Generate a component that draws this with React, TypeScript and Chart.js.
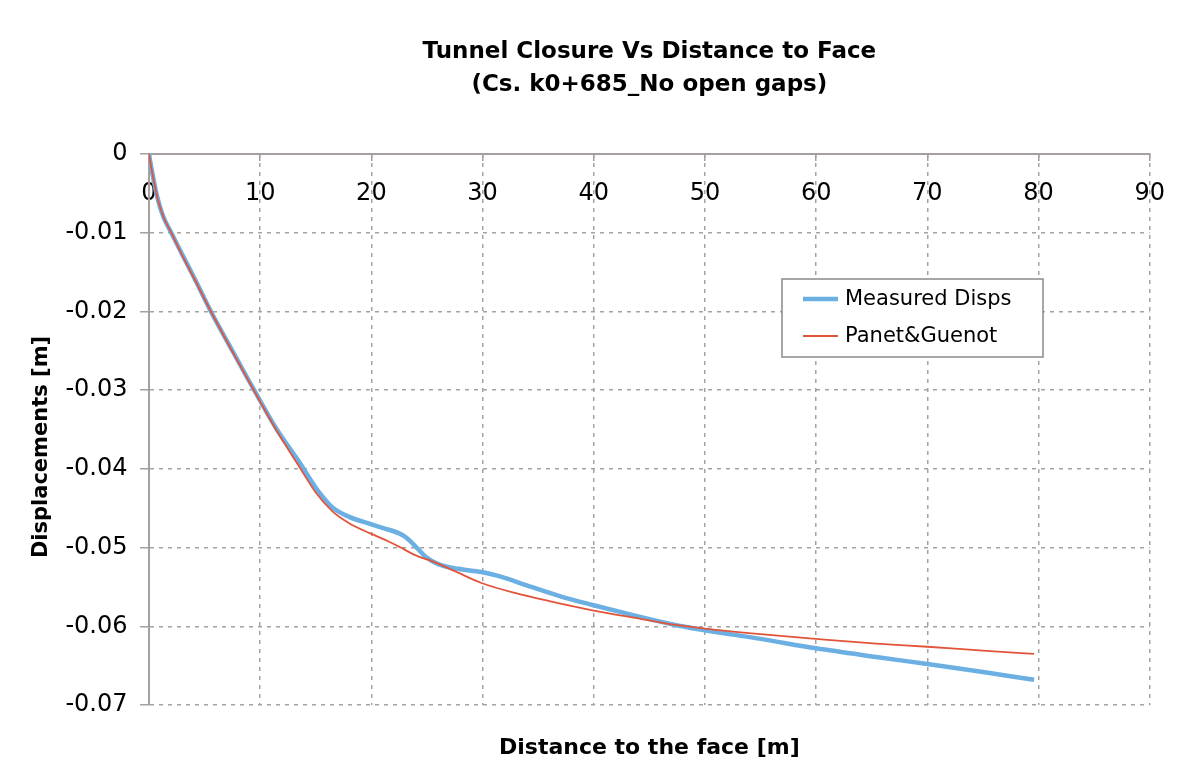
import React, { useEffect, useRef } from "react";
import { Chart, registerables } from "chart.js";

Chart.register(...registerables);

const xTicks = [0, 10, 20, 30, 40, 50, 60, 70, 80, 90];
const yTicks = [0, -0.01, -0.02, -0.03, -0.04, -0.05, -0.06, -0.07];
const yTickLabels = ["0", "-0.01", "-0.02", "-0.03", "-0.04", "-0.05", "-0.06", "-0.07"];

const seriesNames = ["Measured Disps", "Panet&Guenot"];
const yAxisTitle = "Displacements [m]";

const measuredX = [0, 0.24, 0.8, 1.3, 2.0, 3.0, 4.2, 5.6, 7.5, 9.5, 11.5, 13.5, 15.0, 16.5, 18.0, 19.9, 21.0, 22.5, 23.1, 24.0, 24.9, 26.0, 27.8, 29.9, 31.4, 34.4, 37.0, 39.9, 43.0, 47.2, 50.0, 55.0, 60.0, 65.4, 70.0, 75.0, 79.6];
const measuredY = [0, -0.002, -0.0058, -0.008, -0.01, -0.0128, -0.0161, -0.0201, -0.025, -0.0301, -0.035, -0.0391, -0.0424, -0.0449, -0.0461, -0.047, -0.0475, -0.0482, -0.0487, -0.0499, -0.0512, -0.0521, -0.0527, -0.0531, -0.0536, -0.055, -0.0562, -0.0573, -0.0584, -0.0598, -0.0605, -0.0616, -0.0628, -0.0639, -0.0648, -0.0658, -0.0668];

const panetX = [0, 0.24, 0.8, 1.3, 2.0, 3.0, 4.2, 5.6, 7.5, 9.5, 11.5, 13.5, 15.0, 16.5, 18.0, 19.9, 21.5, 22.5, 24.0, 25.4, 27.5, 29.9, 33.0, 36.0, 40.0, 44.0, 47.2, 50.0, 55.0, 60.0, 65.4, 70.0, 75.0, 79.6];
const panetY = [0, -0.002, -0.0058, -0.008, -0.01, -0.0129, -0.0162, -0.0201, -0.0251, -0.0302, -0.0352, -0.0397, -0.043, -0.0454, -0.0469, -0.0482, -0.0492, -0.0499, -0.051, -0.0517, -0.053, -0.0545, -0.0558, -0.0568, -0.058, -0.059, -0.0598, -0.0603, -0.061, -0.0616, -0.0622, -0.0626, -0.0631, -0.0635];

const FONT = "'DejaVu Sans', sans-serif";
const GRID = "#a3a3a3";
const AXIS = "#a59f9f";

const boxLegend = {
  id: "boxLegend",
  afterDraw(chart: any) {
    const ctx = chart.ctx as CanvasRenderingContext2D;
    const bx = 782, by = 279, bw = 261, bh = 78;
    ctx.save();
    ctx.fillStyle = "#ffffff";
    ctx.fillRect(bx, by, bw, bh);
    ctx.strokeStyle = "#8f8888";
    ctx.lineWidth = 1.5;
    ctx.strokeRect(bx, by, bw, bh);
    chart.data.datasets.forEach((ds: any, i: number) => {
      const y = by + 20 + i * 37;
      ctx.beginPath();
      ctx.strokeStyle = ds.borderColor;
      ctx.lineWidth = ds.borderWidth;
      ctx.moveTo(bx + 21, y);
      ctx.lineTo(bx + 56, y);
      ctx.stroke();
      ctx.fillStyle = "#000";
      ctx.font = `21px ${FONT}`;
      ctx.textBaseline = "middle";
      ctx.textAlign = "left";
      ctx.fillText(ds.label, bx + 63, y + 1);
    });
    ctx.restore();
  },
};

const yTitlePlugin = {
  id: "yTitle",
  afterDraw(chart: any) {
    const ctx = chart.ctx as CanvasRenderingContext2D;
    ctx.save();
    ctx.translate(42, 447);
    ctx.rotate(-Math.PI / 2);
    ctx.fillStyle = "#000";
    ctx.font = `bold 21px ${FONT}`;
    ctx.textAlign = "center";
    ctx.textBaseline = "middle";
    ctx.fillText(yAxisTitle, 0, 0);
    ctx.restore();
  },
};

export default function App() {
  const ref = useRef<HTMLCanvasElement>(null);
  useEffect(() => {
    if (!ref.current) return;
    const chart = new Chart(ref.current, {
      type: "line",
      data: {
        datasets: [
          {
            label: seriesNames[0],
            data: measuredX.map((x, i) => ({ x, y: measuredY[i] })),
            borderColor: "#6cb0e3",
            borderWidth: 4.5,
            pointRadius: 0,
            fill: false,
            cubicInterpolationMode: "monotone",
            order: 2,
          },
          {
            label: seriesNames[1],
            data: panetX.map((x, i) => ({ x, y: panetY[i] })),
            borderColor: "#e2543a",
            borderWidth: 1.8,
            pointRadius: 0,
            fill: false,
            cubicInterpolationMode: "monotone",
            order: 1,
          },
        ],
      },
      options: {
        responsive: false,
        devicePixelRatio: 1,
        animation: false,
        layout: { padding: { left: 0, right: 30, top: 0, bottom: 0 } },
        plugins: {
          legend: { display: false },
          tooltip: { enabled: false },
          title: {
            display: true,
            text: ["Tunnel Closure Vs Distance to Face", "(Cs. k0+685_No open gaps)"],
            color: "#000",
            fullSize: false,
            font: { family: FONT, size: 23, weight: "bold", lineHeight: 1.45 },
            padding: { top: 35.5, bottom: 51.8 },
          },
          subtitle: {
            display: true,
            position: "bottom",
            text: "Distance to the face [m]",
            color: "#000",
            fullSize: false,
            font: { family: FONT, size: 22, weight: "bold", lineHeight: 1.2 },
            padding: { top: 29.8, bottom: 18.8 },
          },
        },
        scales: {
          x: {
            type: "linear",
            position: { y: 0 },
            min: 0,
            max: 90,
            afterBuildTicks: (s: any) => {
              s.ticks = xTicks.map((v) => ({ value: v }));
            },
            ticks: {
              color: "#000",
              font: { family: FONT, size: 24 },
              padding: 19,
              maxRotation: 0,
              autoSkip: false,
              callback: (v: any) => String(v),
            },
            grid: { color: GRID, lineWidth: 1.5, tickLength: 6, tickColor: AXIS, tickWidth: 1.5 },
            border: { display: true, color: AXIS, width: 2, dash: [4, 5] },
          },
          y: {
            type: "linear",
            min: -0.07,
            max: 0,
            afterBuildTicks: (s: any) => {
              s.ticks = [...yTicks].sort((a, b) => a - b).map((v) => ({ value: v }));
            },
            afterFit: (s: any) => {
              s.width = 149;
            },
            ticks: {
              color: "#000",
              font: { family: FONT, size: 24 },
              padding: 12.5,
              autoSkip: false,
              callback: (v: any) => yTickLabels[yTicks.indexOf(v)],
            },
            grid: { color: GRID, lineWidth: 1.5, tickLength: 9, tickColor: AXIS, tickWidth: 1.5 },
            border: { display: true, color: AXIS, width: 2, dash: [4, 5] },
          },
        },
      } as any,
      plugins: [boxLegend, yTitlePlugin],
    });
    return () => chart.destroy();
  }, []);
  return (
    <div style={{ position: "absolute", left: 0, top: 0, width: 1184, height: 780, background: "#fff" }}>
      <canvas ref={ref} width={1184} height={780} style={{ display: "block" }} />
    </div>
  );
}
